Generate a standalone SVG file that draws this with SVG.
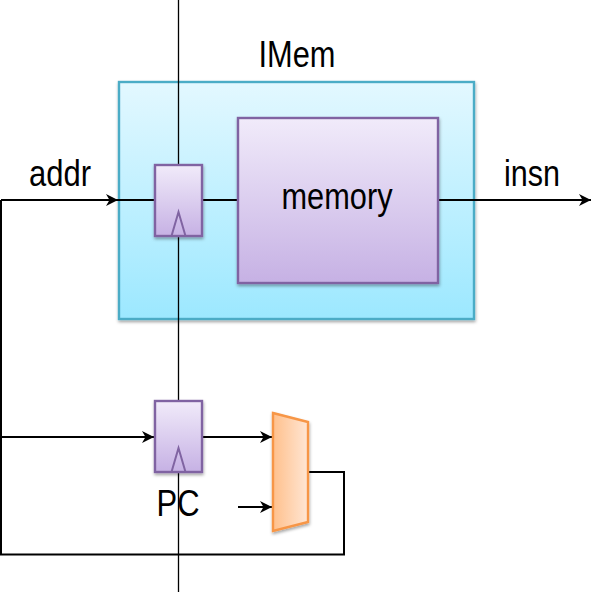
<svg xmlns="http://www.w3.org/2000/svg" width="605" height="592" viewBox="0 0 605 592">
<defs>
<linearGradient id="cy" x1="0" y1="0" x2="0" y2="1"><stop offset="0" stop-color="#e3f8ff"/><stop offset="1" stop-color="#9ce8ff"/></linearGradient>
<linearGradient id="pu" x1="0" y1="0" x2="0" y2="1"><stop offset="0" stop-color="#f1ebfa"/><stop offset="1" stop-color="#c6b1e4"/></linearGradient>
<linearGradient id="or" x1="0" y1="0" x2="1" y2="0"><stop offset="0" stop-color="#ffc08c"/><stop offset="1" stop-color="#ffe6d4"/></linearGradient>
<filter id="sh" x="-20%" y="-20%" width="140%" height="140%"><feDropShadow dx="0.5" dy="2" stdDeviation="1.6" flood-color="#000" flood-opacity="0.35"/></filter>
<marker id="arr" markerUnits="userSpaceOnUse" markerWidth="14" markerHeight="14" refX="12" refY="7" orient="auto"><path d="M0,1 L12,7 L0,13 L3.500,7 Z" fill="#000"/></marker>
</defs>
<style>
.w{fill:none;stroke:#000;stroke-width:2}
.t{font-family:"Liberation Sans",Arial,sans-serif;font-size:36px;fill:#000;text-anchor:middle}
.reg{fill:url(#pu);stroke:#8064a2;stroke-width:2.400;filter:url(#sh)}
.clk{fill:none;stroke:#8064a2;stroke-width:2}
</style>
<g id="imem">
<rect x="119" y="82" width="355" height="237" fill="url(#cy)" stroke="#4bacc6" stroke-width="2.400" filter="url(#sh)"/>
<text class="t" x="297" y="67" textLength="77" lengthAdjust="spacingAndGlyphs">IMem</text>
</g>
<g id="connectors">
<path class="w" style="stroke-width:1.300" d="M178.500,0 V592"/>
<path class="w" d="M1,200 H118" marker-end="url(#arr)"/>
<path class="w" d="M118,200 H155"/>
<path class="w" d="M203,200 H238"/>
<path class="w" d="M438,200 H591" marker-end="url(#arr)"/>
<path class="w" d="M1,200 V554.500 H344 V472 H308"/>
<path class="w" d="M1,437 H154" marker-end="url(#arr)"/>
<path class="w" d="M203,437 H272" marker-end="url(#arr)"/>
<path class="w" d="M238,507 H272" marker-end="url(#arr)"/>
</g>
<g id="reg1">
<rect class="reg" x="155" y="165" width="47" height="71"/>
<path class="clk" d="M171.500,236 L178.500,212 L185.500,236"/>
</g>
<g id="memory">
<rect class="reg" x="238" y="118" width="200" height="165"/>
<text class="t" x="337" y="209" textLength="111" lengthAdjust="spacingAndGlyphs">memory</text>
</g>
<g id="pc">
<rect class="reg" x="155" y="401" width="47" height="71"/>
<path class="clk" d="M171.500,472 L178.500,448 L185.500,472"/>
<text class="t" x="178" y="516" textLength="43" lengthAdjust="spacingAndGlyphs">PC</text>
</g>
<g id="mux">
<path d="M273,413 L308,422 V522 L273,531 Z" fill="url(#or)" stroke="#f79646" stroke-width="2.400" filter="url(#sh)"/>
</g>
<text class="t" x="60" y="186" textLength="62" lengthAdjust="spacingAndGlyphs">addr</text>
<text class="t" x="532" y="186" textLength="56" lengthAdjust="spacingAndGlyphs">insn</text>
</svg>
